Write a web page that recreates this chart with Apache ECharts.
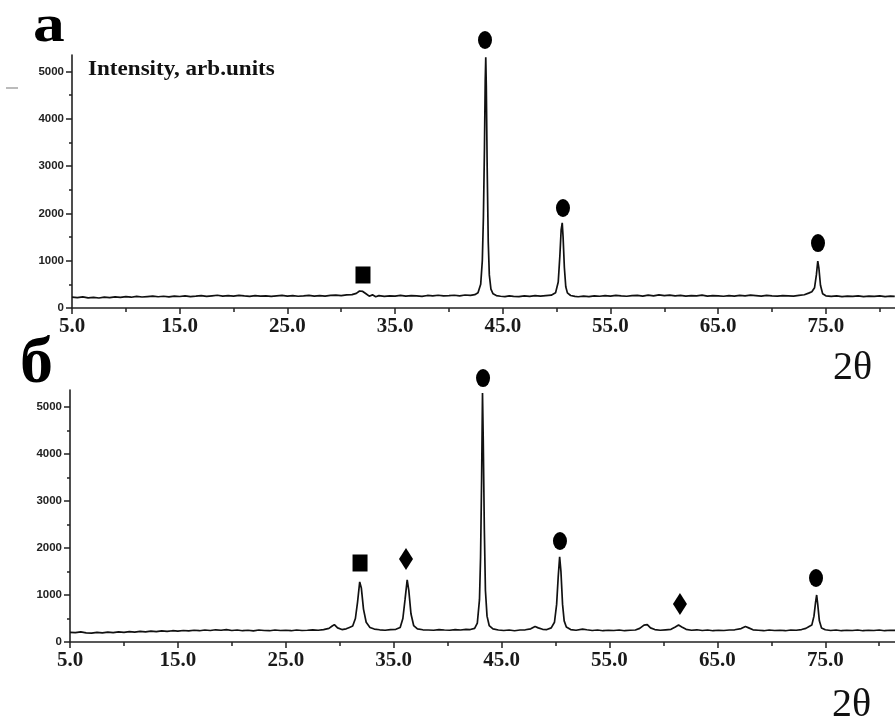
<!DOCTYPE html>
<html><head><meta charset="utf-8">
<script src="https://cdn.jsdelivr.net/npm/echarts@6/dist/echarts.min.js"></script>
<style>html,body{margin:0;padding:0;background:#fff}#c{width:895px;height:722px}</style>
</head><body><div id="c"></div>
<script>
// Panel "а": 2θ (deg), intensity (arb. units)
const topPattern = [
[5.0,230],[5.5,220],[6.0,235],[6.5,215],[7.0,225],[7.5,212],[8.0,230],[8.5,220],[9.0,235],[9.5,225],[10.0,240],[10.5,228],[11.0,245],[11.5,232],[12.0,242],[12.5,252],[13.0,238],[13.5,248],[14.0,235],[14.5,252],[15.0,243],[15.5,258],[16.0,240],[16.5,250],[17.0,262],[17.5,245],[18.0,258],[18.5,270],[19.0,252],[19.5,262],[20.0,250],[20.5,268],[21.0,255],[21.5,245],[22.0,262],[22.5,250],[23.0,258],[23.5,245],[24.0,255],[24.5,265],[25.0,250],[25.5,260],[26.0,248],[26.5,256],[27.0,266],[27.5,252],[28.0,262],[28.5,252],[29.0,266],[29.5,272],[30.0,262],[30.5,276],[31.0,282],[31.4,310],[31.7,360],[32.0,350],[32.3,300],[32.6,250],[32.9,278],[33.2,238],[33.5,262],[34.0,245],[34.5,258],[35.0,252],[35.5,268],[36.0,250],[36.5,262],[37.0,255],[37.5,245],[38.0,265],[38.5,255],[39.0,270],[39.5,255],[40.0,262],[40.5,270],[41.0,258],[41.5,275],[42.0,268],[42.4,282],[42.7,320],[42.95,500],[43.1,1000],[43.2,1900],[43.3,3400],[43.37,4800],[43.42,5300],[43.47,4700],[43.55,3000],[43.65,1400],[43.75,700],[43.9,400],[44.1,300],[44.4,262],[44.8,248],[45.2,240],[45.6,255],[46.0,245],[46.5,240],[47.0,255],[47.5,245],[48.0,260],[48.5,250],[49.0,262],[49.5,272],[49.9,320],[50.15,550],[50.3,1100],[50.42,1650],[50.52,1800],[50.6,1500],[50.72,850],[50.85,450],[51.0,320],[51.3,265],[51.7,245],[52.0,238],[52.5,252],[53.0,242],[53.5,258],[54.0,248],[54.5,262],[55.0,252],[55.5,266],[56.0,255],[56.5,248],[57.0,262],[57.5,268],[58.0,252],[58.5,272],[59.0,258],[59.5,278],[60.0,262],[60.5,272],[61.0,258],[61.5,268],[62.0,252],[62.5,262],[63.0,258],[63.5,272],[64.0,252],[64.5,262],[65.0,258],[65.5,248],[66.0,262],[66.5,252],[67.0,268],[67.5,258],[68.0,272],[68.5,262],[69.0,252],[69.5,268],[70.0,258],[70.5,252],[71.0,262],[71.5,258],[72.0,252],[72.5,268],[73.0,280],[73.4,315],[73.7,345],[73.95,430],[74.12,700],[74.25,990],[74.35,850],[74.5,480],[74.7,300],[75.0,258],[75.5,245],[76.0,255],[76.5,240],[77.0,250],[77.5,245],[78.0,255],[78.5,240],[79.0,250],[79.5,245],[80.0,255],[80.5,240],[81.0,250],[81.4,245]
];
// Panel "б"
const bottomPattern = [
[5.0,205],[5.5,200],[6.0,215],[6.5,195],[7.0,190],[7.5,205],[8.0,195],[8.5,210],[9.0,200],[9.5,215],[10.0,205],[10.5,220],[11.0,210],[11.5,225],[12.0,215],[12.5,230],[13.0,220],[13.5,235],[14.0,225],[14.5,240],[15.0,230],[15.5,245],[16.0,235],[16.5,250],[17.0,240],[17.5,255],[18.0,245],[18.5,260],[19.0,250],[19.5,265],[20.0,245],[20.5,255],[21.0,240],[21.5,250],[22.0,235],[22.5,255],[23.0,245],[23.5,240],[24.0,255],[24.5,245],[25.0,250],[25.5,240],[26.0,255],[26.5,245],[27.0,250],[27.5,260],[28.0,250],[28.5,265],[29.0,290],[29.3,340],[29.5,370],[29.8,300],[30.2,265],[30.6,280],[30.9,310],[31.2,340],[31.45,500],[31.65,850],[31.85,1280],[32.0,1150],[32.2,700],[32.45,420],[32.8,310],[33.2,275],[33.7,260],[34.2,250],[34.7,265],[35.2,270],[35.6,310],[35.85,500],[36.05,900],[36.25,1320],[36.4,1100],[36.6,600],[36.85,350],[37.2,280],[37.7,260],[38.2,255],[38.7,250],[39.2,265],[39.7,255],[40.2,250],[40.7,265],[41.2,255],[41.7,270],[42.1,265],[42.5,290],[42.75,400],[42.95,900],[43.05,1800],[43.15,3500],[43.23,5300],[43.3,4300],[43.4,2400],[43.5,1100],[43.65,550],[43.85,350],[44.2,280],[44.7,255],[45.2,245],[45.7,255],[46.2,240],[46.7,255],[47.2,260],[47.7,280],[48.1,330],[48.4,300],[48.8,270],[49.2,265],[49.6,300],[49.9,420],[50.1,800],[50.25,1400],[50.38,1810],[50.5,1500],[50.65,800],[50.8,450],[51.0,320],[51.4,265],[51.9,250],[52.5,275],[52.9,260],[53.4,245],[53.9,255],[54.4,240],[54.9,250],[55.4,245],[55.9,255],[56.4,240],[56.9,250],[57.4,255],[57.8,290],[58.2,360],[58.5,370],[58.8,300],[59.2,265],[59.7,250],[60.2,260],[60.7,270],[61.1,320],[61.4,360],[61.7,320],[62.1,270],[62.6,250],[63.1,260],[63.6,245],[64.1,255],[64.6,240],[65.1,250],[65.6,245],[66.1,255],[66.6,260],[67.2,285],[67.6,330],[67.9,300],[68.3,260],[68.8,250],[69.3,240],[69.8,255],[70.3,245],[70.8,250],[71.3,240],[71.8,255],[72.3,250],[72.8,265],[73.2,290],[73.5,330],[73.75,360],[73.95,550],[74.1,850],[74.2,1000],[74.3,800],[74.45,450],[74.65,300],[75.0,260],[75.5,245],[76.0,255],[76.5,240],[77.0,250],[77.5,245],[78.0,255],[78.5,240],[79.0,250],[79.5,245],[80.0,255],[80.5,240],[81.0,250],[81.5,245]
];
// Phase markers placed above the peaks (2θ, intensity)
const topCircles = [[43.35,5666],[50.59,2114],[74.27,1374]];
const topSquares = [[32.02,698]];
const bottomCircles = [[43.28,5617],[50.41,2149],[74.14,1362]];
const bottomSquares = [[31.88,1681]];
const bottomDiamonds = [[36.14,1766],[61.53,809]];
// Tick values
const thetaMajorTicks = [5,15,25,35,45,55,65,75];
const thetaMinorTicks = [10,20,30,40,50,60,70,80];
const intensityMajorTicks = [0,1000,2000,3000,4000,5000];
const intensityMinorTicks = [500,1500,2500,3500,4500];

const serif = "'Liberation Serif','Times New Roman',serif";
const sans = "'Liberation Sans',Arial,sans-serif";
const axisColor = '#222';

function xAxes(gridIndex, max) {
  return [
    {type:'value', gridIndex, position:'bottom', min:5, max,
     axisLine:{show:true, onZero:false, lineStyle:{color:axisColor, width:1.6}}, splitLine:{show:false},
     axisTick:{show:true, inside:false, length:6, customValues:thetaMajorTicks, lineStyle:{color:axisColor, width:1.5}},
     axisLabel:{customValues:thetaMajorTicks, formatter:v=>Number(v).toFixed(1), fontFamily:serif, fontWeight:'bold', fontSize:21, color:'#1a1a1a', margin:8}},
    {type:'value', gridIndex, position:'bottom', min:5, max,
     axisLine:{show:false}, splitLine:{show:false},
     axisTick:{show:true, inside:false, length:4, customValues:thetaMinorTicks, lineStyle:{color:axisColor, width:1.5}},
     axisLabel:{show:false}}
  ];
}
function yAxes(gridIndex, max) {
  return [
    {type:'value', gridIndex, position:'left', min:0, max,
     axisLine:{show:true, onZero:false, lineStyle:{color:axisColor, width:1.6}}, splitLine:{show:false},
     axisTick:{show:true, inside:false, length:6, customValues:intensityMajorTicks, lineStyle:{color:axisColor, width:1.5}},
     axisLabel:{customValues:intensityMajorTicks, formatter:v=>String(Math.round(v)), fontFamily:sans, fontWeight:'bold', fontSize:11.5, color:'#222', margin:8, padding:[0,0,6,0]}},
    {type:'value', gridIndex, position:'left', min:0, max,
     axisLine:{show:false}, splitLine:{show:false},
     axisTick:{show:true, inside:false, length:3, customValues:intensityMinorTicks, lineStyle:{color:axisColor, width:1.5}},
     axisLabel:{show:false}}
  ];
}
function patternSeries(data, ax) {
  return {type:'line', xAxisIndex:ax, yAxisIndex:ax, data, symbol:'none', showSymbol:false,
          lineStyle:{color:'#111', width:1.7}, silent:true};
}
function markerSeries(data, ax, symbol, size) {
  return {type:'scatter', xAxisIndex:ax, yAxisIndex:ax, data, symbol, symbolSize:size, clip:false,
          itemStyle:{color:'#000', opacity:1}, silent:true};
}

const chart = echarts.init(document.getElementById('c'), null, {renderer:'canvas'});
chart.setOption({
  animation:false,
  backgroundColor:'#fff',
  grid:[
    {left:72, top:55, width:823, height:253, outerBoundsMode:'none'},
    {left:70, top:390, width:825, height:252, outerBoundsMode:'none'}
  ],
  xAxis:[...xAxes(0, 81.42), ...xAxes(1, 81.46)],
  yAxis:[...yAxes(0, 5349), ...yAxes(1, 5362)],
  series:[
    patternSeries(topPattern, 0),
    patternSeries(bottomPattern, 2),
    markerSeries(topCircles, 0, 'circle', [14,18]),
    markerSeries(topSquares, 0, 'rect', [15,17]),
    markerSeries(bottomCircles, 2, 'circle', [14,18]),
    markerSeries(bottomSquares, 2, 'rect', [15,17]),
    markerSeries(bottomDiamonds, 2, 'diamond', [14,22])
  ],
  graphic:[
    {type:'text', x:33, y:28, scaleX:1.22, style:{text:'а', font:"bold 52px "+serif, fill:'#000', textVerticalAlign:'middle'}},
    {type:'text', x:20, y:365, style:{text:'б', font:"bold 66px "+serif, fill:'#000', textVerticalAlign:'middle'}},
    {type:'text', x:88, y:70, scaleX:1.1, style:{text:'Intensity, arb.units', font:"bold 21px "+serif, fill:'#111', textVerticalAlign:'middle'}},
    {type:'text', x:833, y:368, style:{text:'2θ', font:"40px "+serif, fill:'#111', textVerticalAlign:'middle'}},
    {type:'text', x:832, y:705, style:{text:'2θ', font:"40px "+serif, fill:'#111', textVerticalAlign:'middle'}},
    {type:'line', shape:{x1:6, y1:88, x2:18, y2:88}, style:{stroke:'#bbb', lineWidth:2}}
  ]
});
</script>
</body></html>
